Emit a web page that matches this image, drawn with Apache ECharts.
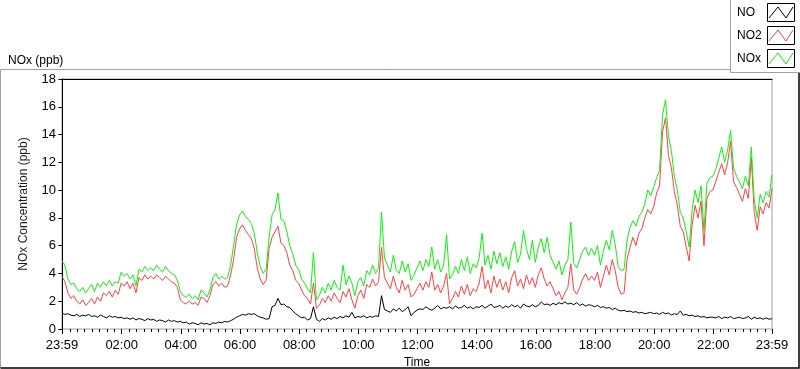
<!DOCTYPE html>
<html>
<head>
<meta charset="utf-8">
<script src="https://cdn.jsdelivr.net/npm/echarts@6/dist/echarts.min.js"></script>
<style>
html,body{margin:0;padding:0;background:#fff;}
#chart{width:800px;height:369px;}
</style>
</head>
<body>
<div id="chart"></div>
<script>
// Sample times: minutes since 00:00, every 6 min from 23:59 (-1) to 23:59 (1439)
const times = [];
for (let i = 0; i <= 240; i++) times.push(i * 6 - 1);

const seriesNames = ['NO', 'NO2', 'NOx'];

const noValues = [
  1.15,1.05,1.1,1.0,0.95,1.05,0.9,1.0,0.95,1.05,
  0.9,0.95,0.85,1.0,0.9,0.8,0.95,0.85,0.9,0.8,
  0.85,0.75,0.8,0.7,0.8,0.65,0.75,0.7,0.6,0.75,
  0.65,0.7,0.55,0.65,0.6,0.5,0.65,0.55,0.6,0.5,
  0.55,0.45,0.5,0.35,0.45,0.4,0.3,0.45,0.35,0.4,
  0.3,0.45,0.4,0.5,0.45,0.55,0.5,0.6,0.7,0.85,
  0.95,1.05,1.0,1.1,1.05,1.1,0.95,0.85,0.8,0.7,
  0.75,1.6,1.7,2.2,1.75,1.8,1.6,1.55,1.3,1.1,
  0.95,0.8,0.85,0.65,0.75,1.6,0.7,0.55,0.75,0.65,
  0.8,0.7,0.85,0.75,0.9,0.8,0.95,0.85,1.2,0.8,
  0.9,0.85,0.95,0.8,0.9,0.85,0.95,0.9,2.4,1.4,
  1.3,1.2,1.45,1.3,1.5,1.25,1.4,1.6,0.95,1.2,
  1.35,1.45,1.4,1.6,1.45,1.35,1.5,1.7,1.45,1.55,
  1.5,1.6,1.45,1.65,1.5,1.55,1.7,1.5,1.6,1.45,
  1.6,1.55,1.7,1.5,1.65,1.8,1.55,1.6,1.7,1.5,
  1.65,1.55,1.75,1.6,1.7,1.5,1.8,1.65,1.6,1.75,
  1.6,1.7,1.95,1.75,1.8,1.7,1.85,1.75,1.9,1.8,
  1.95,1.8,1.85,1.75,1.9,1.7,1.8,1.65,1.75,1.7,
  1.6,1.7,1.55,1.6,1.5,1.55,1.4,1.5,1.35,1.3,
  1.35,1.25,1.3,1.2,1.25,1.15,1.2,1.1,1.15,1.2,
  1.1,1.15,1.05,1.2,1.1,1.15,1.0,1.1,1.05,1.3,
  1.0,1.05,0.95,1.0,0.9,0.95,0.85,0.9,0.8,0.85,
  0.85,0.8,0.9,0.75,0.85,0.8,0.9,0.75,0.8,0.85,
  0.75,0.8,0.9,0.7,0.85,0.75,0.8,0.7,0.8,0.7,
  0.75
];

const no2Values = [
  3.8,3.4,2.6,2.2,2.4,2.0,1.8,2.1,1.7,1.9,
  2.2,1.8,2.3,2.0,2.6,2.4,2.7,2.3,2.8,2.5,
  3.3,3.1,3.4,2.9,3.3,2.6,3.7,3.5,3.9,3.6,
  3.8,3.6,3.9,3.7,3.5,3.8,3.6,3.4,3.3,3.0,
  2.1,1.9,1.8,2.0,1.8,1.9,1.7,2.3,2.2,1.9,
  2.4,3.2,3.4,3.1,3.3,3.0,3.1,3.9,5.0,6.6,
  7.2,7.5,7.1,6.8,6.5,5.8,4.4,3.6,3.2,3.5,
  5.8,6.6,7.0,7.4,6.2,6.0,5.5,4.6,4.2,3.5,
  3.3,2.8,2.4,2.2,1.8,3.3,1.5,1.7,2.2,1.9,
  2.4,2.0,2.6,2.2,1.9,2.7,2.3,2.9,2.1,1.5,
  2.4,2.8,2.2,3.2,3.0,3.6,3.1,3.4,5.9,3.7,
  3.3,2.9,3.8,3.0,2.6,3.5,2.8,3.2,2.3,2.5,
  2.9,3.3,2.8,3.4,3.0,4.1,2.8,3.2,2.6,3.1,
  4.0,1.8,2.2,2.7,2.3,3.1,2.5,3.2,2.4,2.9,
  2.7,3.3,4.5,2.9,3.5,2.6,3.8,3.0,3.6,2.8,
  3.4,2.6,3.7,4.2,3.1,3.6,2.9,3.9,3.2,3.7,
  3.0,3.9,4.4,3.6,3.1,3.4,2.9,2.4,2.7,2.1,
  2.6,3.0,4.7,2.8,2.5,3.0,3.6,4.0,3.5,3.8,
  3.5,4.1,3.0,3.8,4.6,3.9,5.0,4.2,3.0,2.5,
  2.6,5.0,5.9,6.6,6.0,6.9,7.2,8.0,8.6,8.3,
  8.8,9.8,10.3,14.2,15.2,12.5,11.6,9.9,8.9,7.4,
  7.0,5.9,4.9,7.5,8.9,8.0,9.2,6.0,9.4,9.9,
  10.0,10.6,11.3,11.9,11.1,12.0,13.5,10.6,10.2,9.7,
  9.2,10.1,9.4,12.3,8.4,7.1,8.8,8.3,9.1,8.7,
  10.1
];

const noxValues = [
  4.9,4.6,3.6,3.2,3.3,2.9,2.7,3.0,2.6,2.9,
  3.2,2.7,3.3,3.0,3.4,3.1,3.5,3.1,3.4,3.3,
  4.1,3.8,4.0,3.6,3.9,3.1,4.3,4.1,4.5,4.2,
  4.4,4.2,4.6,4.3,4.1,4.5,4.2,4.0,3.9,3.5,
  2.7,2.4,2.3,2.5,2.2,2.4,2.1,2.8,2.6,2.3,
  2.8,3.7,4.0,3.6,3.8,3.6,3.7,4.6,6.0,7.5,
  8.2,8.5,8.1,7.9,7.6,6.9,5.5,4.5,4.0,4.3,
  6.6,8.2,8.6,9.8,7.9,7.8,7.0,6.0,5.4,4.6,
  4.3,3.6,3.3,2.9,2.6,5.5,2.1,2.4,3.0,2.6,
  3.3,2.8,3.5,3.0,2.8,4.6,3.2,3.8,3.3,2.4,
  3.4,3.7,3.1,4.2,3.9,4.6,4.0,4.4,8.4,5.1,
  4.6,4.1,5.3,4.2,4.0,4.9,4.1,4.7,3.5,3.9,
  4.4,4.9,4.2,5.0,4.5,5.9,4.3,5.0,4.1,4.6,
  6.8,3.6,3.9,4.5,4.0,5.0,4.2,5.2,4.0,4.7,
  4.4,5.1,6.9,4.6,5.3,4.3,5.6,4.7,5.5,4.5,
  5.2,4.3,5.6,6.3,4.8,5.4,7.1,5.8,5.0,6.4,
  4.8,5.9,6.5,5.5,6.6,5.3,4.8,4.3,4.9,3.9,
  4.6,5.0,7.7,4.7,4.4,5.0,5.6,5.9,5.3,5.8,
  5.3,6.0,4.6,5.6,6.4,5.7,7.1,6.1,4.5,4.2,
  4.3,6.4,7.3,7.8,7.4,8.1,8.4,9.0,10.0,9.6,
  10.2,10.9,11.4,15.4,16.5,13.9,12.8,11.0,10.0,8.4,
  8.0,7.0,5.9,8.6,10.0,9.1,10.3,7.1,10.5,10.9,
  11.0,11.5,12.3,13.1,12.0,12.9,14.3,11.6,11.0,10.6,
  10.1,11.0,10.3,13.1,9.3,8.0,9.7,9.1,9.9,9.5,
  11.1
];

// Axis ticks / labels
const majorTickValues = [-1, 120, 240, 360, 480, 600, 720, 840, 960, 1080, 1200, 1320, 1439];
const majorTickLabels = ['23:59','02:00','04:00','06:00','08:00','10:00','12:00','14:00','16:00','18:00','20:00','22:00','23:59'];
const minorTickValues = [];
for (let m = 0; m < 1440; m += 15) minorTickValues.push(m);

const colors = ['#000000', '#ff4040', '#10f010'];

function pairs(vals) { return times.map((t, i) => [t, vals[i]]); }

const chart = echarts.init(document.getElementById('chart'), null, { renderer: 'canvas' });

const tickFont = '"Liberation Sans Narrow", "Liberation Sans", Arial, sans-serif';
const textFont = '"Liberation Sans", Arial, sans-serif';

// legend drawn as LabVIEW-style plot legend
const legendItems = [];
seriesNames.forEach((name, k) => {
  const cy = 13 + k * 23;
  legendItems.push({ type: 'text', x: 737, y: cy, style: { text: name, fill: '#000', font: '12px ' + textFont, textVerticalAlign: 'middle' } });
  legendItems.push({ type: 'rect', shape: { x: 767.5, y: cy - 9.5, width: 27, height: 18 }, style: { fill: '#fff', stroke: '#000', lineWidth: 1 } });
  legendItems.push({ type: 'polyline', shape: { points: [[769, cy + 5], [778, cy - 6], [786, cy + 5], [793, cy - 6]] }, style: { stroke: colors[k], lineWidth: 1, fill: null } });
});

const option = {
  animation: false,
  backgroundColor: '#ffffff',
  title: {
    text: 'NOx (ppb)', left: 3, top: 50,
    textStyle: { fontSize: 12, fontWeight: 'normal', color: '#000', fontFamily: textFont }
  },
  grid: { left: 62, top: 79, right: 28, bottom: 40, outerBoundsMode: 'none', containLabel: false, show: true, borderColor: '#a0a0a0', borderWidth: 1, backgroundColor: '#fff' },
  xAxis: [
    {
      type: 'value', min: -1, max: 1439, position: 'bottom', offset: 2,
      axisLine: { show: false },
      axisTick: { show: true, customValues: majorTickValues, length: 5, lineStyle: { color: '#000' } },
      axisLabel: {
        customValues: majorTickValues, margin: 8, color: '#000', fontSize: 13, fontFamily: tickFont,
        formatter: v => majorTickLabels[majorTickValues.indexOf(v)]
      },
      splitLine: { show: false },
      name: 'Time', nameLocation: 'middle', nameGap: 25,
      nameTextStyle: { fontSize: 12, color: '#000', fontFamily: textFont }
    },
    {
      type: 'value', min: -1, max: 1439, position: 'bottom', offset: 2,
      axisLine: { show: false },
      axisTick: { show: true, customValues: minorTickValues, length: 3, lineStyle: { color: '#000' } },
      axisLabel: { show: false },
      splitLine: { show: false }
    },
    {
      type: 'value', min: -1, max: 1439, position: 'top',
      axisLine: { show: true, lineStyle: { color: '#000', width: 1 } },
      axisTick: { show: false }, axisLabel: { show: false }, splitLine: { show: false }
    }
  ],
  yAxis: [
    {
      type: 'value', min: 0, max: 18, interval: 2, position: 'left', offset: 2,
      axisLine: { show: false },
      axisTick: { show: true, length: 4, lineStyle: { color: '#000' } },
      axisLabel: { margin: 4, color: '#000', fontSize: 13, fontFamily: tickFont },
      splitLine: { show: false },
      name: 'NOx Concentration (ppb)', nameLocation: 'middle', nameGap: 30, nameRotate: 90,
      nameTextStyle: { fontSize: 12, color: '#1a1a2a', fontFamily: textFont }
    },
    {
      type: 'value', min: 0, max: 18, position: 'left',
      axisLine: { show: true, lineStyle: { color: '#000', width: 1 } },
      axisTick: { show: false }, axisLabel: { show: false }, splitLine: { show: false }
    }
  ],
  series: [
    { name: seriesNames[0], type: 'line', data: pairs(noValues), showSymbol: false, lineStyle: { color: colors[0], width: 1 }, itemStyle: { color: colors[0] }, z: 3 },
    { name: seriesNames[1], type: 'line', data: pairs(no2Values), showSymbol: false, lineStyle: { color: colors[1], width: 1 }, itemStyle: { color: colors[1] }, z: 2 },
    { name: seriesNames[2], type: 'line', data: pairs(noxValues), showSymbol: false, lineStyle: { color: colors[2], width: 1 }, itemStyle: { color: colors[2] }, z: 2 }
  ],
  graphic: [
    { type: 'polyline', shape: { points: [[0.5, 368], [0.5, 69.5], [773, 69.5]] }, style: { stroke: '#a0a0a0', lineWidth: 1, fill: null } },
    { type: 'polyline', shape: { points: [[0.5, 368], [799, 368], [799, 72]] }, style: { stroke: '#000', lineWidth: 1.5, fill: null } },
    { type: 'rect', shape: { x: 730.5, y: -1, width: 70, height: 73.5 }, style: { fill: '#fff', stroke: '#a0a0a0', lineWidth: 1 } },
    { type: 'group', children: legendItems }
  ]
};

chart.setOption(option);
</script>
</body>
</html>
